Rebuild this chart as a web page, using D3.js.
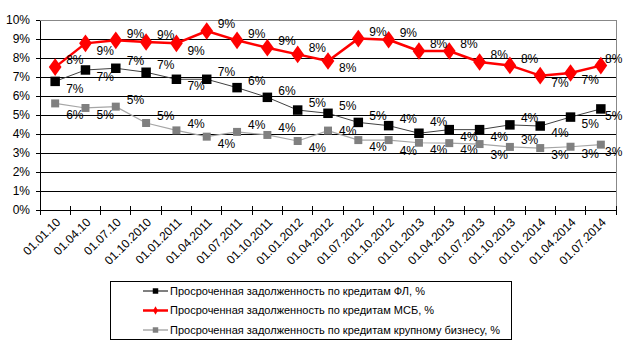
<!DOCTYPE html>
<html><head><meta charset="utf-8">
<script src="https://cdn.jsdelivr.net/npm/d3@7/dist/d3.min.js"></script>
<style>
html,body{margin:0;padding:0;background:#fff;}
svg{display:block;font-family:"Liberation Sans",Arial,sans-serif;}
</style></head>
<body><svg id="c" width="624" height="346"></svg>
<script>
const categories = ["01.01.10","01.04.10","01.07.10","01.10.2010","01.01.2011","01.04.2011","01.07.2011","01.10.2011","01.01.2012","01.04.2012","01.07.2012","01.10.2012","01.01.2013","01.04.2013","01.07.2013","01.10.2013","01.01.2014","01.04.2014","01.07.2014"];
const flValues = [6.77,7.37,7.46,7.25,6.88,6.88,6.44,5.93,5.26,5.09,4.61,4.44,4.04,4.23,4.23,4.48,4.42,4.89,5.32];
const msbValues = [7.52,8.77,8.93,8.84,8.77,9.42,8.93,8.54,8.19,7.84,9.02,8.96,8.37,8.37,7.79,7.61,7.07,7.21,7.60];
const bigValues = [5.61,5.37,5.44,4.58,4.19,3.86,4.11,3.95,3.63,4.18,3.68,3.68,3.54,3.52,3.47,3.32,3.26,3.33,3.44];
const yTicks = [0,1,2,3,4,5,6,7,8,9,10];
const seriesNames = ["Просроченная задолженность по кредитам ФЛ, %","Просроченная задолженность по кредитам МСБ,  %","Просроченная задолженность по кредитам крупному бизнесу, %"];

const svg = d3.select("#c");
const L = 40, R = 616, T = 20, B = 210;
const x = d3.scaleBand().domain(categories).range([L, R]);
const y = d3.scaleLinear().domain([0, 10]).range([B, T]);
const cx = d => x(d) + x.bandwidth() / 2;

// grid
svg.append("g").selectAll("line").data(yTicks.filter(t => t > 0 && t < 10)).join("line")
  .attr("x1", L).attr("x2", R).attr("y1", d => y(d)).attr("y2", d => y(d))
  .attr("stroke", "#000").attr("stroke-width", 1).attr("shape-rendering", "crispEdges");
svg.append("line").attr("x1", L).attr("x2", R).attr("y1", T).attr("y2", T).attr("stroke", "#888").attr("shape-rendering", "crispEdges");
svg.append("line").attr("x1", R).attr("x2", R).attr("y1", T).attr("y2", B).attr("stroke", "#888").attr("shape-rendering", "crispEdges");

// y axis
const yAxis = d3.axisLeft(y).tickValues(yTicks).tickFormat(d => d + "%").tickSize(4).tickSizeOuter(0);
const gy = svg.append("g").attr("transform", `translate(${L},0)`).call(yAxis);
gy.select(".domain").attr("stroke", "#000").attr("shape-rendering", "crispEdges");
gy.selectAll(".tick line").attr("stroke", "#000").attr("shape-rendering", "crispEdges");
gy.selectAll(".tick text").attr("font-size", 12).attr("fill", "#000").attr("x", -10).attr("font-family", "Liberation Sans, Arial, sans-serif");

// x axis
const gx = svg.append("g").attr("transform", `translate(0,${B})`);
gx.append("line").attr("x1", L).attr("x2", R).attr("stroke", "#000").attr("shape-rendering", "crispEdges");
const bounds = categories.map(c => x(c)).concat([R]);
gx.selectAll("line.tk").data(bounds).join("line").attr("class", "tk")
  .attr("x1", d => d).attr("x2", d => d).attr("y1", -4).attr("y2", 5)
  .attr("stroke", "#000").attr("shape-rendering", "crispEdges");
gx.selectAll("text").data(categories).join("text")
  .attr("transform", d => `translate(${cx(d) + 3},${10}) rotate(-45)`)
  .attr("text-anchor", "end").attr("dy", "0.35em").attr("font-size", 12).attr("fill", "#000")
  .text(d => d);

const line = d3.line().x((d, i) => cx(categories[i])).y(d => y(d));
const fmt = v => Math.round(v) + "%";

function drawSeries(vals, lineColor, lineWidth, marker, markerColor, msize) {
  const g = svg.append("g");
  g.append("path").datum(vals).attr("d", line).attr("fill", "none")
    .attr("stroke", lineColor).attr("stroke-width", lineWidth).attr("stroke-linejoin", "round");
  g.selectAll("path.m").data(vals).join("path").attr("class", "m")
    .attr("d", d3.symbol().type(marker).size(msize))
    .attr("transform", (d, i) => `translate(${cx(categories[i])},${y(d)})${marker === d3.symbolDiamond ? " scale(1.25,1)" : ""}`)
    .attr("fill", markerColor);
}
drawSeries(bigValues, "#a6a6a6", 1.2, d3.symbolSquare, "#808080", 64);
drawSeries(flValues, "#404040", 1, d3.symbolSquare, "#000", 90);
drawSeries(msbValues, "#ff0000", 2.5, d3.symbolDiamond, "#ff0000", 90);

// obstacles: sampled points along all lines
const allSeries = [msbValues, flValues, bigValues];
const obstacles = [];
allSeries.forEach(vals => {
  for (let i = 0; i < vals.length - 1; i++) {
    const x0 = cx(categories[i]), x1 = cx(categories[i + 1]);
    const y0 = y(vals[i]), y1 = y(vals[i + 1]);
    for (let t = 0; t <= 1; t += 0.05) obstacles.push([x0 + (x1 - x0) * t, y0 + (y1 - y0) * t]);
  }
  vals.forEach((v, i) => obstacles.push([cx(categories[i]), y(v)]));
});
const placed = [];
const prefs = [[-7, 7, -11, 11, -15, 0], [7, -7, 11, -11, 15, 0], [7, -7, 11, -11, 0]];
const LW = 17, LH = 10;
const labelG = svg.append("g");
allSeries.forEach((vals, s) => {
  vals.forEach((v, i) => {
    const px = cx(categories[i]), py = y(v);
    let lx = px + 11;
    if (lx + LW > 622) lx = 622 - LW;
    let best = null, bestScore = Infinity;
    prefs[s].forEach((dy, k) => {
      const top = py + dy - LH / 2, bot = py + dy + LH / 2;
      let score = 0;
      obstacles.forEach(([ox, oy]) => { if (ox >= lx - 1 && ox <= lx + LW + 1 && oy >= top - 1 && oy <= bot + 1) score += 1; });
      placed.forEach(b => { if (!(lx + LW < b[0] || lx > b[0] + LW || bot < b[1] || top > b[1] + LH)) score += 20; });
      score += k * 0.5;
      if (score < bestScore) { bestScore = score; best = dy; }
    });
    placed.push([lx, py + best - LH / 2]);
    labelG.append("text").attr("x", lx).attr("y", py + best).attr("dy", "0.35em")
      .attr("font-size", 12).attr("fill", "#000").text(fmt(v));
  });
});

// legend
const lg = svg.append("g");
lg.append("rect").attr("x", 110.5).attr("y", 281.5).attr("width", 401).attr("height", 58)
  .attr("fill", "#fff").attr("stroke", "#000");
const legendStyles = [
  {c: "#000", w: 1, m: d3.symbolSquare, mc: "#000", s: 30},
  {c: "#ff0000", w: 2.5, m: d3.symbolDiamond, mc: "#ff0000", s: 20},
  {c: "#808080", w: 1, m: d3.symbolSquare, mc: "#808080", s: 30}
];
seriesNames.forEach((n, i) => {
  const yy = 291 + i * 19.5;
  const st = legendStyles[i];
  lg.append("line").attr("x1", 143).attr("x2", 168).attr("y1", yy).attr("y2", yy).attr("stroke", st.c).attr("stroke-width", st.w);
  lg.append("path").attr("d", d3.symbol().type(st.m).size(st.s)).attr("transform", `translate(155.5,${yy})`).attr("fill", st.mc);
  lg.append("text").attr("x", 170).attr("y", yy).attr("dy", "0.35em").attr("font-size", 11).attr("fill", "#000").text(n);
});
</script></body></html>
